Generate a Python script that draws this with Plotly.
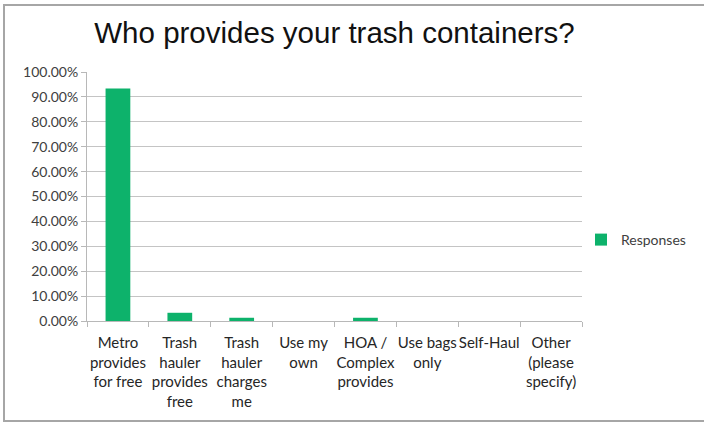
import plotly.graph_objects as go

categories = [
    "Metro<br>provides<br>for free",
    "Trash<br>hauler<br>provides<br>free",
    "Trash<br>hauler<br>charges<br>me",
    "Use my<br>own",
    "HOA /<br>Complex<br>provides",
    "Use bags<br>only",
    "Self-Haul",
    "Other<br>(please<br>specify)",
]
responses = [0.934, 0.033, 0.013, 0.0, 0.013, 0.0, 0.0, 0.0]
series_name = "Responses"
title_text = "Who provides your trash containers?"

W, H = 704, 424
L, R, T, B = 87, 122, 72, 103

fig = go.Figure()
fig.add_trace(go.Bar(
    x=categories, y=responses, name=series_name,
    marker=dict(color="#0db26b", line=dict(width=0)),
    showlegend=True,
))

pw = W - L - R
ph = H - T - B

def px_to_paper_x(px):
    return (px - L) / pw

def px_to_paper_y(py):
    return (H - B - py) / ph

fig.update_layout(
    width=W, height=H,
    margin=dict(l=L, r=R, t=T, b=B, pad=0, autoexpand=False),
    paper_bgcolor="white", plot_bgcolor="white",
    title=dict(text=title_text, x=0.5, xref="paper", y=1 - 33 / H, yanchor="middle",
               xanchor="center",
               font=dict(family="Liberation Sans, Arial", size=29.5, color="#111111")),
    font=dict(family="Lato, Open Sans, sans-serif", size=14, color="#404040"),
    bargap=0.6,
    showlegend=True,
    legend=dict(x=px_to_paper_x(581), y=px_to_paper_y(240), xanchor="left", yanchor="middle",
                font=dict(size=14, color="#404040"), bgcolor="rgba(0,0,0,0)"),
    xaxis=dict(
        type="category", showgrid=False, showline=True, linecolor="#b8b8b8", linewidth=1,
        ticks="outside", ticklen=5, tickcolor="#b8b8b8", tickson="boundaries",
        tickangle=0, ticklabelstandoff=8, automargin=False,
        tickfont=dict(size=15, color="#262626"),
    ),
    yaxis=dict(
        range=[0, 1.0], dtick=0.1, tickformat=".2%", showgrid=True, gridcolor="#c4c4c4",
        gridwidth=1, showline=True, linecolor="#b8b8b8", linewidth=1,
        ticks="outside", ticklen=5, tickcolor="#b8b8b8", zeroline=False, automargin=False,
        tickfont=dict(size=14, color="#404040"),
    ),
    shapes=[dict(type="rect", xref="paper", yref="paper",
                 x0=px_to_paper_x(4), x1=px_to_paper_x(710),
                 y0=px_to_paper_y(421), y1=px_to_paper_y(5),
                 line=dict(color="#a6a6a6", width=2), fillcolor="rgba(0,0,0,0)",
                 layer="below")],
)

fig.write_html(
    "out.html",
    config={"displayModeBar": False},
    post_script="document.body.style.margin='0';document.body.style.overflow='hidden';",
)
